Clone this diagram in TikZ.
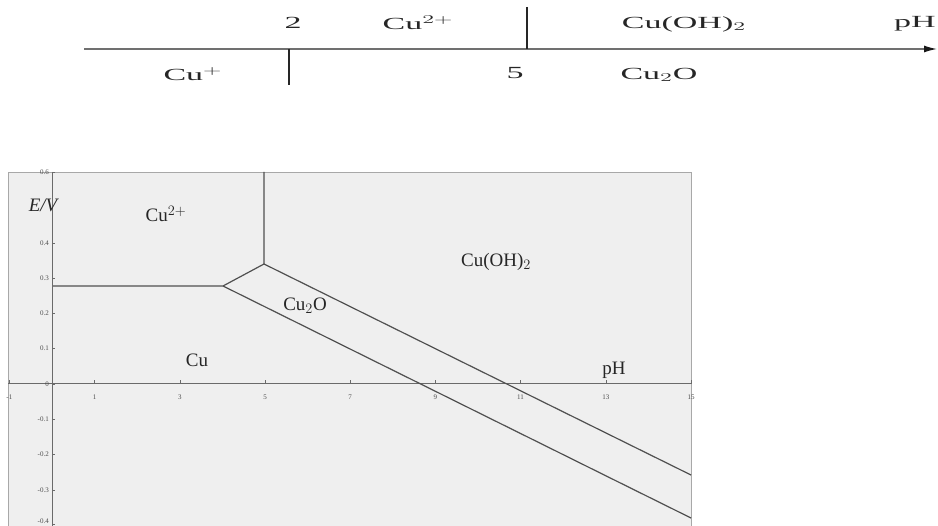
\documentclass[tikz,border=0pt]{standalone}
\usepackage{fontspec}
\setmainfont{Liberation Serif}
\usetikzlibrary{arrows.meta}
\newcommand{\stretchtxt}[1]{\scalebox{2}[1]{#1}}
\definecolor{plotbg}{HTML}{EFEFEF}
\definecolor{framecol}{HTML}{A8A8A8}
\definecolor{axiscol}{HTML}{6A6A6A}
\definecolor{curvecol}{HTML}{505050}
\definecolor{numcol}{HTML}{707070}
\tikzset{
  toplbl/.style={font=\fontsize{17}{19}\selectfont, inner sep=0pt, text=black!85},
  plotlbl/.style={font=\fontsize{19}{21}\selectfont, inner sep=0pt, text=black!85},
  ticklbl/.style={font=\fontsize{7}{8}\selectfont, inner sep=0pt, text=black!70},
  curve/.style={draw=curvecol, line width=1.2pt},
  axisline/.style={draw=axiscol, line width=1pt},
  framel/.style={draw=framecol, line width=0.8pt},
  numline/.style={draw=numcol, line width=1.4pt},
  numtick/.style={draw=black!85, line width=1.3pt},
}
\begin{document}
\begin{tikzpicture}[x=1pt,y=-1pt]
\useasboundingbox (0,0) rectangle (938,526);

% ---------- top number line ----------
\coordinate (ns) at (84,49);
\coordinate (ne) at (937,49);
\draw[numline,-{Latex[length=13pt,width=7pt,color=black!90]}] (ns) -- (ne);
\coordinate (tfa) at (527,7);
\coordinate (tfb) at (527,49);
\draw[numtick] (tfa) -- (tfb);
\coordinate (tta) at (289,49);
\coordinate (ttb) at (289,85);
\draw[numtick] (tta) -- (ttb);

\node[toplbl] (n2) at (293,23) {\stretchtxt{2}};
\node[toplbl] (ncu2) at (418,23) {\stretchtxt{Cu$^{2+}$}};
\node[toplbl] (ncuoh) at (684,24) {\stretchtxt{Cu(OH)$_2$}};
\node[toplbl] (nph) at (915,24) {\stretchtxt{pH}};
\node[toplbl] (ncup) at (193,74) {\stretchtxt{Cu$^{+}$}};
\node[toplbl] (n5) at (515,73) {\stretchtxt{5}};
\node[toplbl] (ncu2o) at (659,75) {\stretchtxt{Cu$_2$O}};

% ---------- plot ----------
\fill[plotbg] (8,172) rectangle (691,526);
\draw[framel] (8,526) -- (8,172) -- (691,172) -- (691,526);
\draw[axisline] (8,384) -- (691,384);
\draw[axisline] (52,172) -- (52,526);

\foreach \lab/\val in {0.6/6,0.4/4,0.3/3,0.2/2,0.1/1,0/0,-0.1/-1,-0.2/-2,-0.3/-3}{
  \draw[axiscol, line width=0.5pt] (52,384-\val*35.3) -- (55,384-\val*35.3);
  \node[ticklbl, anchor=east] (yt\val) at (49,384-\val*35.3) {\lab};
}
\draw[axiscol, line width=0.5pt] (52,524) -- (55,524);
\node[ticklbl, anchor=east] (ytm4) at (49,521) {-0.4};
\foreach \p in {-1,1,3,5,7,9,11,13,15}{
  \draw[axiscol, line width=0.5pt] (52+\p*42.6,384) -- (52+\p*42.6,380);
  \node[ticklbl] (xt\p) at (52+\p*42.6,397) {\p};
}

\coordinate (yl) at (53,286);
\coordinate (tp) at (223,286);
\coordinate (qp) at (264,264);
\coordinate (vt) at (264,172);
\coordinate (ue) at (691,475);
\coordinate (le) at (691,518);
\draw[curve] (yl) -- (tp) -- (qp) -- (vt);
\draw[curve] (qp) -- (ue);
\draw[curve] (tp) -- (le);

\node[plotlbl, font=\fontsize{19}{21}\selectfont\itshape] (ev) at (43,205) {E/V};
\node[plotlbl] (pcu2) at (166,214) {Cu$^{2+}$};
\node[plotlbl] (pcuoh) at (496,262) {Cu(OH)$_2$};
\node[plotlbl] (pcu2o) at (305,306) {Cu$_2$O};
\node[plotlbl] (pcu) at (197,360) {Cu};
\node[plotlbl] (pph) at (614,370) {pH};
\end{tikzpicture}
\end{document}
